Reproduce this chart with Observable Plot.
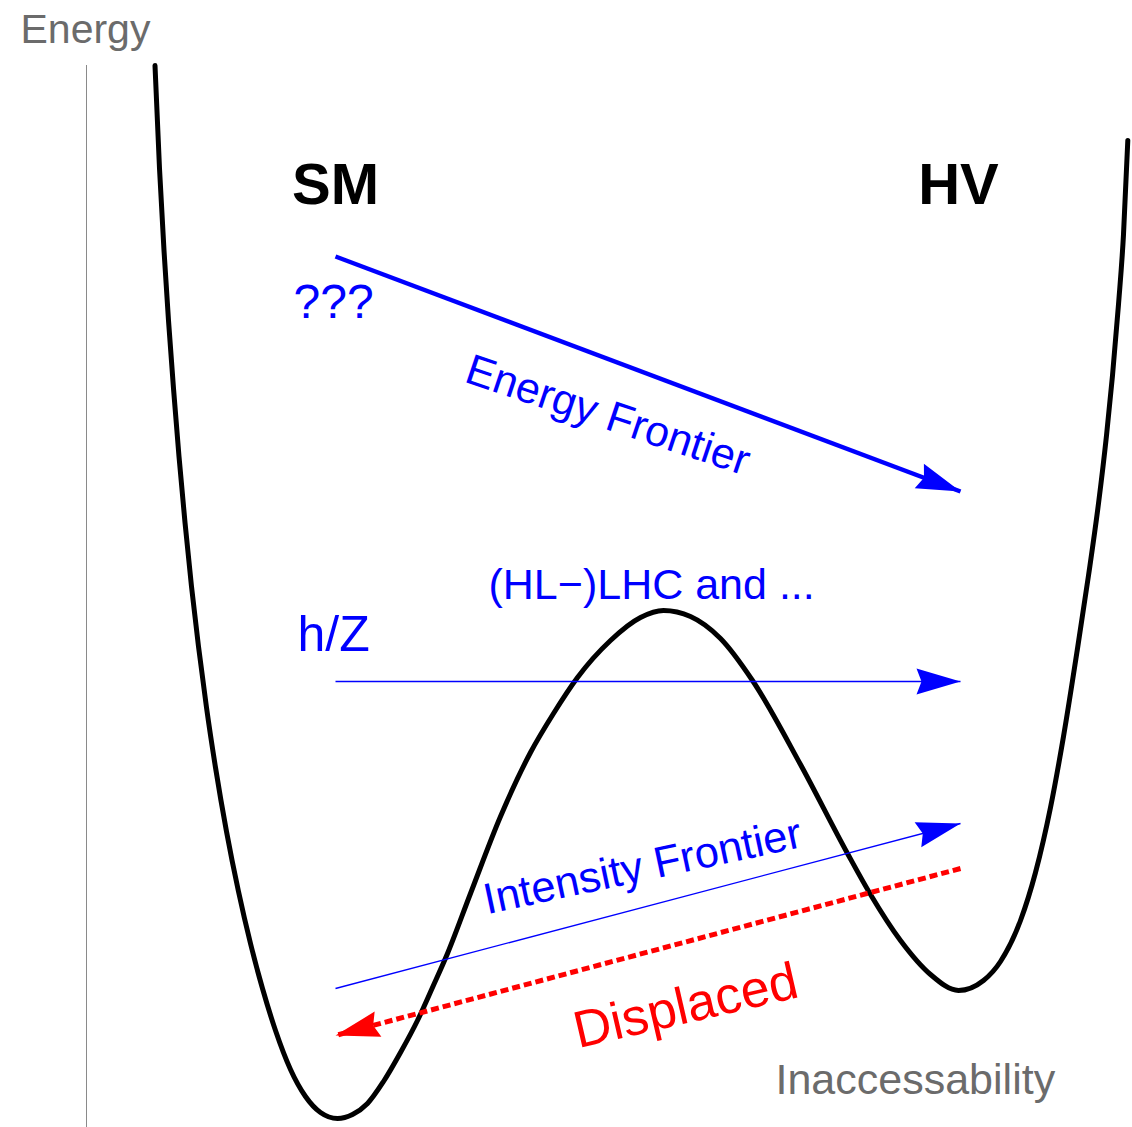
<!DOCTYPE html>
<html>
<head>
<meta charset="utf-8">
<script src="https://cdn.jsdelivr.net/npm/d3@7"></script>
<script src="https://cdn.jsdelivr.net/npm/@observablehq/plot@0.6"></script>
<style>
  html, body { margin: 0; padding: 0; background: #ffffff; }
  #chart svg { display: block; }
</style>
</head>
<body>
<div id="chart"></div>
<script>
// Double-well potential curve: Inaccessability (x) vs Energy (y)
const wellX = [0.685,0.73,0.775,0.82,0.87,0.925,0.985,1.05,1.12,1.20,1.29,1.40,1.52,1.64,1.76,1.89,2.04,2.19,2.34,2.51,2.66,2.81,2.97,3.14,3.31,3.46,3.61,3.84,4.14,4.44,4.67,4.91,5.24,5.54,5.77,6.04,6.34,6.66,7.14,7.61,7.84,8.14,8.44,8.72,8.97,9.14,9.34,9.49,9.64,9.77,9.91,10.02,10.12,10.20,10.26,10.32,10.37,10.413];
const wellE = [10.62,9.59,8.77,8.07,7.39,6.71,6.05,5.41,4.81,4.20,3.60,2.96,2.36,1.84,1.39,0.97,0.58,0.31,0.15,0.09,0.13,0.24,0.46,0.75,1.07,1.40,1.74,2.34,3.11,3.75,4.14,4.50,4.87,5.10,5.17,5.11,4.89,4.47,3.63,2.74,2.33,1.87,1.53,1.37,1.47,1.66,2.07,2.55,3.20,3.91,4.79,5.52,6.24,6.92,7.52,8.23,8.93,9.87];

// Arrows: start and end points
const arrowNames = ["Energy Frontier", "h/Z", "Intensity Frontier", "Displaced"];
const arrowX1 = [2.49, 2.49, 2.49, 8.74];
const arrowY1 = [8.71, 4.46, 1.39, 2.59];
const arrowX2 = [8.74, 8.74, 8.74, 2.49];
const arrowY2 = [6.36, 4.46, 3.04, 0.92];

// Labels
const axisLabels = ["Energy", "Inaccessability"];
const wellLabels = ["SM", "HV"];
const textLabels = ["???", "h/Z", "(HL\u2212)LHC and ...", "Energy Frontier", "Intensity Frontier", "Displaced"];

const well = wellX.map((x, i) => ({x, e: wellE[i]}));
const arrows = arrowNames.map((name, i) => ({name, x1: arrowX1[i], y1: arrowY1[i], x2: arrowX2[i], y2: arrowY2[i]}));
const byName = (n) => arrows.filter((d) => d.name === n);

function headMarker(color) {
  const ns = "http://www.w3.org/2000/svg";
  const m = document.createElementNS(ns, "marker");
  m.setAttribute("markerUnits", "userSpaceOnUse");
  m.setAttribute("viewBox", "-60 -60 120 120");
  m.setAttribute("markerWidth", 120);
  m.setAttribute("markerHeight", 120);
  m.setAttribute("refX", 0);
  m.setAttribute("refY", 0);
  m.setAttribute("orient", "auto");
  m.setAttribute("overflow", "visible");
  const p = document.createElementNS(ns, "path");
  p.setAttribute("d", "M0,0L-44,-13L-39,0L-44,13Z");
  p.setAttribute("fill", color);
  p.setAttribute("stroke", "none");
  p.setAttribute("stroke-dasharray", "none");
  m.appendChild(p);
  return m;
}

const FONT = "'Liberation Sans', Arial, Helvetica, sans-serif";
const BLUE = "#0000ff";
const RED = "#ff0000";
const GRAY = "#6b6b6b";

function build(marker) {
  return Plot.plot({
    width: 1132,
    height: 1127,
    marginLeft: 86,
    marginRight: 0,
    marginTop: 65,
    marginBottom: 0,
    x: {domain: [0, 10.46], axis: null},
    y: {domain: [0, 10.62], axis: null},
    style: {fontFamily: FONT, background: "#ffffff", overflow: "visible"},
    marks: [
      Plot.ruleX([0], {y1: 0, y2: 10.62, stroke: "#8a8a8a", strokeWidth: 1}),
      Plot.line(well, {x: "x", y: "e", curve: "monotone-x", stroke: "#000000", strokeWidth: 5}),
      Plot.link(byName("Energy Frontier"), {x1: "x1", y1: "y1", x2: "x2", y2: "y2", stroke: BLUE, strokeWidth: 4.5, markerEnd: marker}),
      Plot.link(byName("h/Z"), {x1: "x1", y1: "y1", x2: "x2", y2: "y2", stroke: BLUE, strokeWidth: 1.6, markerEnd: marker}),
      Plot.link(byName("Intensity Frontier"), {x1: "x1", y1: "y1", x2: "x2", y2: "y2", stroke: BLUE, strokeWidth: 1.3, markerEnd: marker}),
      Plot.link(byName("Displaced"), {x1: "x1", y1: "y1", x2: "x2", y2: "y2", stroke: RED, strokeWidth: 5, strokeDasharray: "8,4", markerEnd: marker}),
      // axis labels
      Plot.text([axisLabels[0]], {x: -0.66, y: 10.85, text: (d) => d, textAnchor: "start", lineAnchor: "bottom", fontSize: 41, fill: GRAY, fontFamily: FONT}),
      Plot.text([axisLabels[1]], {x: 6.89, y: 0.34, text: (d) => d, textAnchor: "start", lineAnchor: "bottom", fontSize: 43, fill: GRAY, fontFamily: FONT}),
      // well labels
      Plot.text([wellLabels[0]], {x: 2.49, y: 9.24, text: (d) => d, textAnchor: "middle", lineAnchor: "bottom", fontSize: 58, fontWeight: "bold", fill: "#000000", fontFamily: FONT}),
      Plot.text([wellLabels[1]], {x: 8.72, y: 9.24, text: (d) => d, textAnchor: "middle", lineAnchor: "bottom", fontSize: 58, fontWeight: "bold", fill: "#000000", fontFamily: FONT}),
      // blue / red annotations
      Plot.text([textLabels[0]], {x: 2.07, y: 8.10, text: (d) => d, textAnchor: "start", lineAnchor: "bottom", fontSize: 48, fill: BLUE, fontFamily: FONT}),
      Plot.text([textLabels[1]], {x: 2.11, y: 4.77, text: (d) => d, textAnchor: "start", lineAnchor: "bottom", fontSize: 50, fill: BLUE, fontFamily: FONT}),
      Plot.text([textLabels[2]], {x: 4.02, y: 5.29, text: (d) => d, textAnchor: "start", lineAnchor: "bottom", fontSize: 43, fill: BLUE, fontFamily: FONT}),
      Plot.text([textLabels[3]], {x: 5.17, y: 6.99, text: (d) => d, textAnchor: "middle", lineAnchor: "bottom", rotate: 18.5, fontSize: 43, fill: BLUE, fontFamily: FONT}),
      Plot.text([textLabels[4]], {x: 5.59, y: 2.47, text: (d) => d, textAnchor: "middle", lineAnchor: "bottom", rotate: -12, fontSize: 43.5, fill: BLUE, fontFamily: FONT}),
      Plot.text([textLabels[5]], {x: 6.03, y: 1.05, text: (d) => d, textAnchor: "middle", lineAnchor: "bottom", rotate: -13, fontSize: 52, fill: RED, fontFamily: FONT})
    ]
  });
}

let chart;
try {
  chart = build(headMarker);
} catch (e) {
  chart = build("arrow");
}
document.getElementById("chart").appendChild(chart);
</script>
</body>
</html>
